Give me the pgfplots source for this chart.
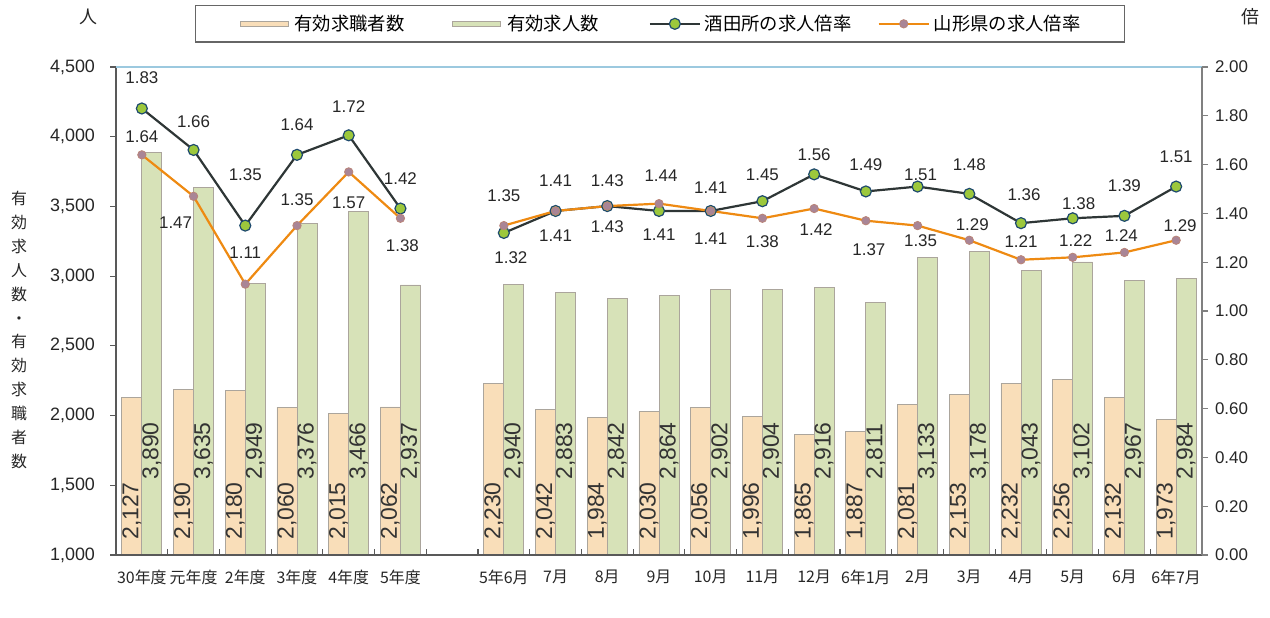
\documentclass[border=0pt]{standalone}
\usepackage{fontspec}
\setmainfont{Liberation Sans}
\newfontfamily\jp{Noto Sans CJK JP}
\usepackage{pgfplots}
\usepackage{pgfplotstable}
\pgfplotsset{compat=1.18}

\definecolor{seekfill}{HTML}{F9DEB9}
\definecolor{jobfill}{HTML}{D7E2B8}
\definecolor{barline}{HTML}{ABA59C}
\definecolor{sakata}{HTML}{2E3636}
\definecolor{sakatamk}{HTML}{9CC83C}
\definecolor{sakatamkline}{HTML}{1E4A6E}
\definecolor{yama}{HTML}{EE8A12}
\definecolor{yamamk}{HTML}{A98596}
\definecolor{topline}{HTML}{9CC9DF}

\pgfplotsset{
  barleg/.style={legend image code/.code={\draw[##1] (0bp,-1.4bp) rectangle (24bp,1.4bp);}},
  lineleg/.style={legend image code/.code={\draw[mark repeat=2,mark phase=2,##1] plot coordinates {(0bp,0bp) (12.5bp,0bp) (25bp,0bp)};}},
  frame/.style={scale only axis, width=543bp, height=244bp, xmin=-0.5, xmax=20.5},
}
\tikzset{
  ratefmt/.style={/pgf/number format/fixed, /pgf/number format/fixed zerofill,
    /pgf/number format/precision=2, /pgf/number format/assume math mode=true},
}

% x = position (gap at 6 between fiscal years and months)
\pgfplotstableread{
x seek job
0 2127 3890
1 2190 3635
2 2180 2949
3 2060 3376
4 2015 3466
5 2062 2937
7 2230 2940
8 2042 2883
9 1984 2842
10 2030 2864
11 2056 2902
12 1996 2904
13 1865 2916
14 1887 2811
15 2081 3133
16 2153 3178
17 2232 3043
18 2256 3102
19 2132 2967
20 1973 2984
}\bars

% sdx/sdy, ydx/ydy: label offsets in bp
\pgfplotstableread{
x sak sdx sdy yam ydx ydy
0 1.83 0 15.5 1.64 0 9
1 1.66 0 14 1.47 -9 -13
2 1.35 0 25.5 1.11 0 15.5
3 1.64 0 15 1.35 0 13
4 1.72 0 14.5 1.57 0 -15.5
5 1.42 0 15 1.38 1 -13.5
6 nan 0 0 nan 0 0
7 1.32 3.5 -12.5 1.35 0 15
8 1.41 0 15 1.41 0 -12.5
9 1.43 0 12.5 1.43 0 -10.5
10 1.41 0 -12 1.44 1 14
11 1.41 0 11.5 1.41 0 -14
12 1.45 0 13 1.38 0 -11.5
13 1.56 0 10 1.42 1 -10.5
14 1.49 0 13.5 1.37 1.5 -14.5
15 1.51 1.5 6 1.35 1.5 -7.5
16 1.48 0 14.5 1.29 1.5 8
17 1.36 1.5 14 1.21 0 9
18 1.38 3 7.5 1.22 1.5 8.5
19 1.39 0 15 1.24 -1.5 8.5
20 1.51 0 15 1.29 2 7.5
}\rates

\begin{document}
\begin{tikzpicture}
\useasboundingbox (-58bp,-31.5bp) rectangle (577bp,277.5bp);

% bars only
\begin{axis}[
  frame, ymin=1000, ymax=4500,
  hide axis,
  ybar=0pt, bar width=0.387,
  /pgf/number format/1000 sep={,},
  /pgf/number format/assume math mode=true,
  nodes near coords,
  visualization depends on=rawy\as\rawy,
]
\addplot[fill=seekfill, draw=barline, line width=0.4bp,
  nodes near coords style={font=\fontsize{11.5}{12}\selectfont, text=black!80, inner sep=0pt,
    yshift={(7.5-(\rawy-1000)*0.0697143)*1bp}, rotate=90, anchor=west}]
  table[x=x, y=seek] {\bars};
\addplot[fill=jobfill, draw=barline, line width=0.4bp,
  nodes near coords style={font=\fontsize{11.5}{12}\selectfont, text=black!80, inner sep=0pt,
    yshift={(37.5-(\rawy-1000)*0.0697143)*1bp}, rotate=90, anchor=west}]
  table[x=x, y=job] {\bars};
\end{axis}

% box frame with left and bottom ticks and labels
\begin{axis}[
  frame, ymin=1000, ymax=4500,
  axis line style={draw=black!65, line width=0.7bp},
  xtick pos=left, ytick pos=left,
  xtick={0.5,1.5,...,19.5},
  xticklabels={},
  extra x ticks={0,1,2,3,4,5,7,8,9,10,11,12,13,14,15,16,17,18,19,20},
  extra x tick labels={30年度,元年度,2年度,3年度,4年度,5年度,5年6月,7月,8月,9月,10月,11月,12月,6年1月,2月,3月,4月,5月,6月,6年7月},
  extra x tick style={major tick length=0pt},
  ytick={1000,1500,2000,2500,3000,3500,4000,4500},
  major tick length=3bp,
  tick style={draw=black!65, line width=0.6bp},
  xtick align=inside,
  ytick align=outside,
  xticklabel style={font=\jp\fontsize{8}{9}\selectfont, text=black!85, yshift=-4bp},
  yticklabel style={font=\fontsize{9}{10}\selectfont, text=black!85, xshift=-4bp,
    /pgf/number format/1000 sep={,}, /pgf/number format/assume math mode=true},
]
\end{axis}

% rates, right axis, top line, legend
\begin{axis}[
  frame, ymin=0, ymax=2,
  axis x line*=top, axis y line*=right,
  x axis line style={draw=topline, line width=0.9bp},
  y axis line style={draw=black!50, line width=0.8bp},
  xtick=\empty,
  ytick={0,0.2,0.4,0.6,0.8,1,1.2,1.4,1.6,1.8,2},
  tick align=outside, major tick length=3bp,
  y tick style={draw=black!50, line width=0.6bp},
  yticklabel style={font=\fontsize{8.5}{10}\selectfont, text=black!85, ratefmt},
  unbounded coords=jump,
  nodes near coords,
  nodes near coords style={font=\fontsize{8.5}{10}\selectfont, text=black!85, anchor=center, ratefmt},
  legend columns=4,
  legend cell align=left,
  legend style={at={(0.0727,1.127)}, anchor=north west, draw=black!60, line width=0.6bp,
    font=\jp\fontsize{9.2}{10}\selectfont, inner xsep=22bp, inner ysep=3.5bp,
    nodes={inner xsep=0bp, inner ysep=1bp},
    /tikz/column 1/.style={column sep=3bp},
    /tikz/column 2/.style={column sep=24bp},
    /tikz/column 3/.style={column sep=3bp},
    /tikz/column 4/.style={column sep=25bp},
    /tikz/column 5/.style={column sep=2bp},
    /tikz/column 6/.style={column sep=13bp},
    /tikz/column 7/.style={column sep=2bp}},
]
\addlegendimage{barleg, fill=seekfill, draw=barline, line width=0.4bp}
\addlegendimage{barleg, fill=jobfill, draw=barline, line width=0.4bp}
\addplot[lineleg, draw=sakata, line width=1.1bp, mark=*, mark size=2.75bp,
  mark options={fill=sakatamk, draw=sakatamkline, line width=0.6bp},
  visualization depends on={\thisrow{sdx}\as\ldx},
  visualization depends on={\thisrow{sdy}\as\ldy},
  nodes near coords style={xshift=\ldx bp, yshift=\ldy bp}]
  table[x=x, y=sak] {\rates};
\addplot[lineleg, draw=yama, line width=1.1bp, mark=*, mark size=2.1bp,
  mark options={fill=yamamk, draw=yamamk!80!orange, line width=0.4bp},
  visualization depends on={\thisrow{ydx}\as\ldx},
  visualization depends on={\thisrow{ydy}\as\ldy},
  nodes near coords style={xshift=\ldx bp, yshift=\ldy bp}]
  table[x=x, y=yam] {\rates};
\legend{有効求職者数,有効求人数,酒田所の求人倍率,山形県の求人倍率}
\end{axis}

\node[font=\jp\fontsize{9}{10}\selectfont, text=black!85] at (-14bp,269bp) {人};
\node[font=\jp\fontsize{9}{10}\selectfont, text=black!85] at (567bp,269bp) {倍};
\node[font=\jp\fontsize{8}{12}\selectfont, text=black!85, align=center, inner sep=0pt]
  at (-48.5bp,112.5bp) {有\\効\\求\\人\\数\\・\\有\\効\\求\\職\\者\\数};
\end{tikzpicture}
\end{document}
